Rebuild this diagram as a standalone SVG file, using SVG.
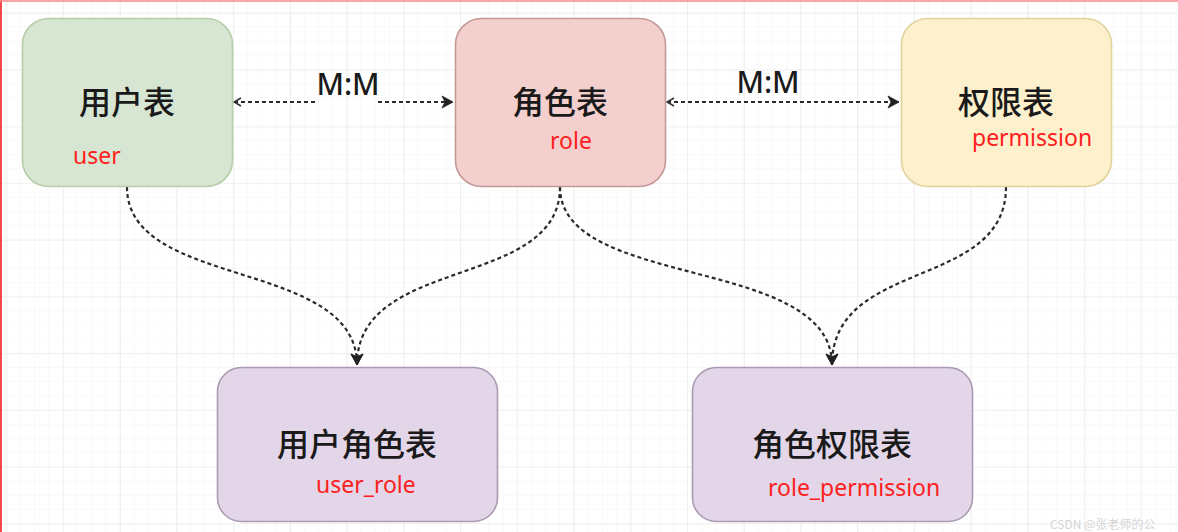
<svg xmlns="http://www.w3.org/2000/svg" width="1178" height="532" viewBox="0 0 1178 532">
<style>
.node{stroke-width:1.6}
.t{font-family:"Noto Sans CJK SC","Noto Sans",sans-serif;font-size:32px;font-weight:500;fill:#1a1a1a;text-anchor:middle}
.r{font-family:"Noto Sans","Open Sans","Noto Sans CJK SC",sans-serif;font-size:23px;fill:#ff2020}
.m{font-family:"Noto Sans","Liberation Sans",sans-serif;font-size:30px;font-weight:500;fill:#1a1a1a;text-anchor:middle}
.c{fill:none;stroke:#2a2a2a;stroke-width:2.2;stroke-dasharray:4 3}
</style>
<defs>
<pattern id="minor" patternUnits="userSpaceOnUse" x="6.5" y="13" width="14.2" height="14.2">
<path d="M14.2 0V14.2M0 14.2H14.2" fill="none" stroke="#f4f4f4" stroke-width="1"/>
</pattern>
<pattern id="major" patternUnits="userSpaceOnUse" x="6.5" y="13" width="56.7" height="56.7">
<path d="M0 0V56.7M0 0H56.7" fill="none" stroke="#e6e6e6" stroke-width="1.2"/>
</pattern>
<marker id="openStart" markerWidth="12" markerHeight="12" refX="1" refY="6" orient="auto" markerUnits="userSpaceOnUse">
<path d="M8 2 L1 6 L8 10" fill="none" stroke="#333" stroke-width="1.6"/>
</marker>
<marker id="fillEnd" markerWidth="14" markerHeight="14" refX="12" refY="7" orient="auto" markerUnits="userSpaceOnUse">
<path d="M1 1 L12 7 L1 13 L4 7 Z" fill="#222" stroke="#222" stroke-width="0.8"/>
</marker>
</defs>
<rect width="1178" height="532" fill="#ffffff"/>
<rect width="1178" height="532" fill="url(#minor)"/>
<rect width="1178" height="532" fill="url(#major)"/>
<line x1="1" y1="0" x2="1" y2="532" stroke="#f24a4a" stroke-width="2"/>
<line x1="0" y1="1" x2="1178" y2="1" stroke="#f48a8a" stroke-width="1.5"/>

<g id="connectors">
<path class="c" d="M234 102 H316" marker-start="url(#openStart)"/>
<path class="c" d="M378 102 H453" marker-end="url(#fillEnd)"/>
<path class="c" d="M667 102 H899" marker-start="url(#openStart)" marker-end="url(#fillEnd)"/>
<path class="c" d="M127 187 C127 290 357 258 357 365" marker-end="url(#fillEnd)"/>
<path class="c" d="M560 187 C560 290 357 255 357 365" marker-end="url(#fillEnd)"/>
<path class="c" d="M560 187 C560 290 832 255 832 365" marker-end="url(#fillEnd)"/>
<path class="c" d="M1006 187 C1006 290 832 258 832 365" marker-end="url(#fillEnd)"/>
<text class="m" x="348" y="95">M:M</text>
<text class="m" x="768" y="93">M:M</text>
</g>

<g id="user">
<rect class="node" x="22.5" y="18.5" width="210" height="168" rx="26" fill="#d7e6d2" stroke="#b6cda8"/>
<text class="t" x="127" y="114">用户表</text>
<text class="r" x="73" y="164">user</text>
</g>
<g id="role">
<rect class="node" x="455.5" y="18.5" width="210" height="168" rx="26" fill="#f3d0ce" stroke="#c39896"/>
<text class="t" x="560" y="114">角色表</text>
<text class="r" x="550" y="149">role</text>
</g>
<g id="permission">
<rect class="node" x="901.5" y="18.5" width="210" height="168" rx="26" fill="#fcf0cd" stroke="#e2d39c"/>
<text class="t" x="1006" y="114">权限表</text>
<text class="r" x="972" y="146">permission</text>
</g>
<g id="user_role">
<rect class="node" x="217.5" y="367.5" width="280" height="154" rx="24" fill="#e2d6e8" stroke="#aa9bb3"/>
<text class="t" x="357" y="456">用户角色表</text>
<text class="r" x="316" y="493">user_role</text>
</g>
<g id="role_permission">
<rect class="node" x="692.5" y="367.5" width="280" height="154" rx="24" fill="#e2d6e8" stroke="#aa9bb3"/>
<text class="t" x="832" y="456">角色权限表</text>
<text class="r" x="768" y="496">role_permission</text>
</g>
<text x="1050" y="529" font-family="Noto Sans CJK SC, sans-serif" font-size="12" fill="#d4d4d4">CSDN @张老师的公</text>
</svg>
